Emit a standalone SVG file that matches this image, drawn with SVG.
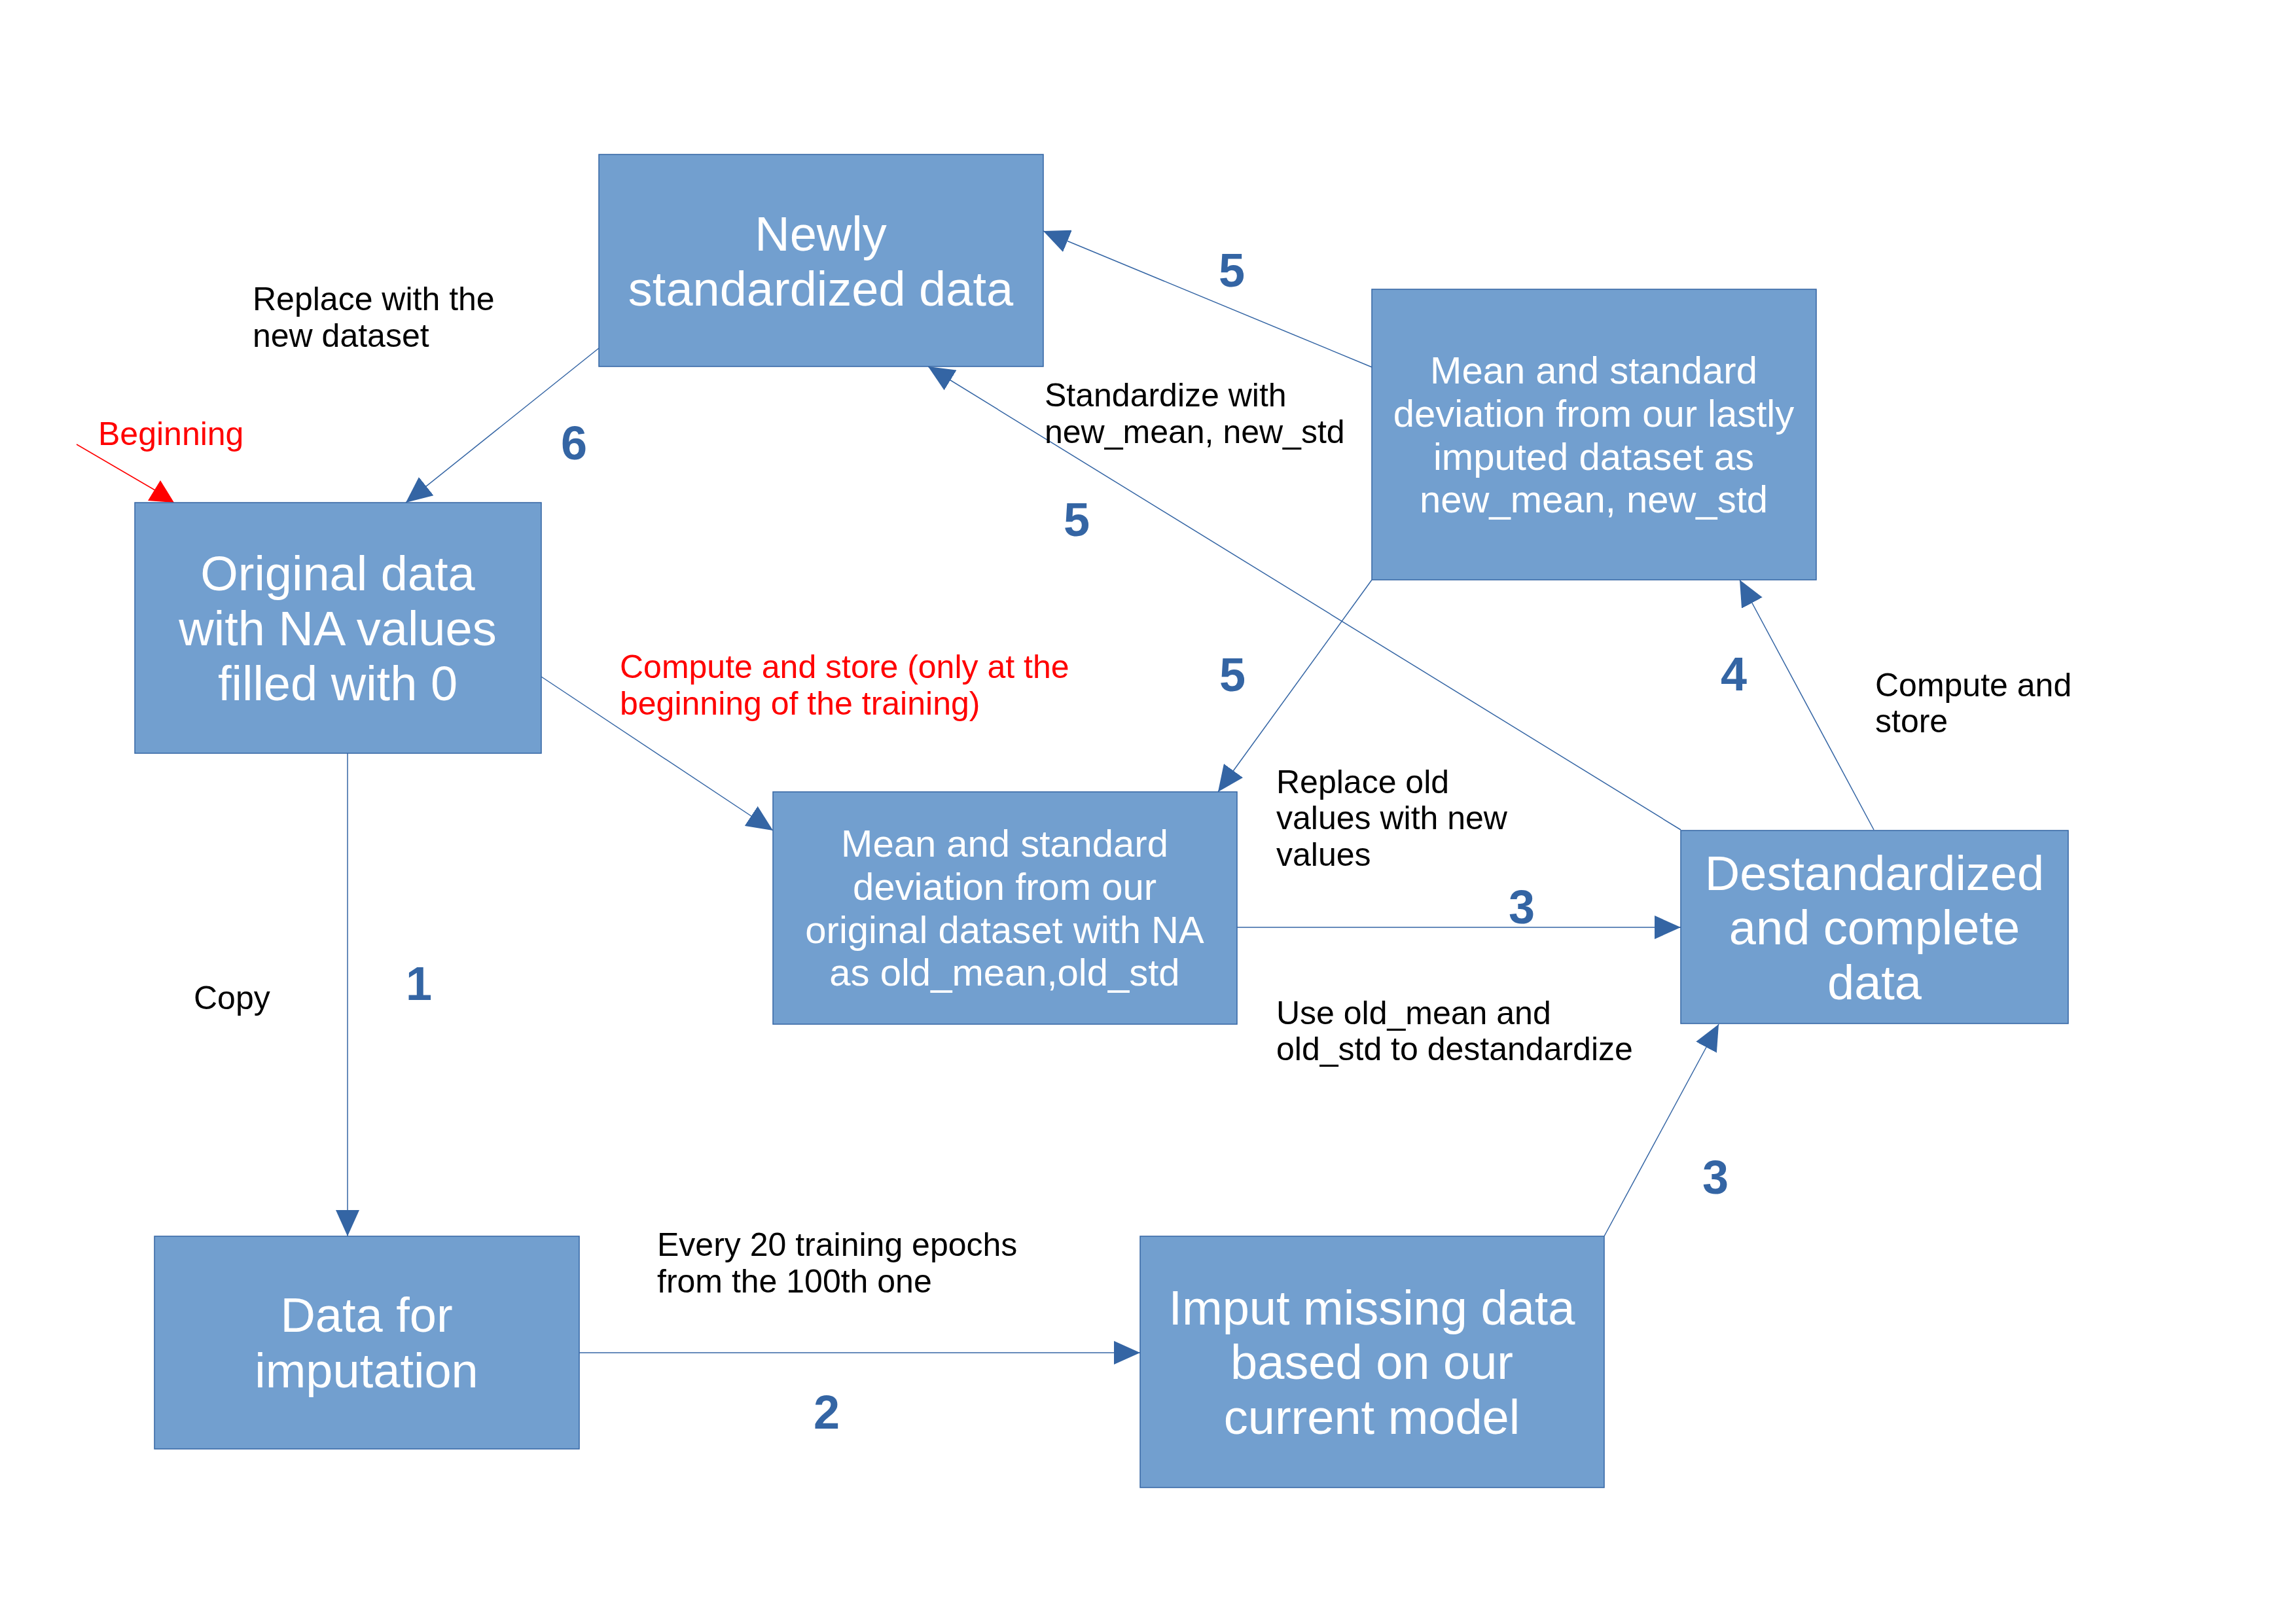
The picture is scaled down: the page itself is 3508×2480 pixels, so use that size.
<svg xmlns="http://www.w3.org/2000/svg" width="3508" height="2480" viewBox="0 0 3508 2480">
<style>
.box{fill:#729fcf;stroke:#3465a4;stroke-width:1.5}
.bt{font-family:"Liberation Sans",Arial,sans-serif;fill:#ffffff;text-anchor:middle}
.big{font-size:74px}
.small{font-size:58px}
.lbl{font-family:"Liberation Sans",Arial,sans-serif;font-size:50px;fill:#000000}
.red{fill:#ff0000}
.num{font-family:"Liberation Sans",Arial,sans-serif;font-size:72px;font-weight:bold;fill:#3465a4}
.con{stroke:#3465a4;stroke-width:1.5;fill:none;marker-end:url(#arr)}
</style>
<defs>
<marker id="arr" markerUnits="userSpaceOnUse" markerWidth="40" markerHeight="36" refX="40" refY="18" orient="auto">
<path d="M0,0 L40,18 L0,36 z" fill="#3465a4"/>
</marker>
</defs>
<rect width="3508" height="2480" fill="#ffffff"/>

<g id="connectors">
<line class="con" x1="531" y1="1151" x2="531" y2="1889"/>
<line class="con" x1="885" y1="2067" x2="1742" y2="2067"/>
<line class="con" x1="1890" y1="1417" x2="2568" y2="1417"/>
<line class="con" x1="2451" y1="1889" x2="2626" y2="1565"/>
<line class="con" x1="2863" y1="1268" x2="2658" y2="886"/>
<line class="con" x1="2096" y1="561" x2="1594" y2="353"/>
<line class="con" x1="2568" y1="1268" x2="1418" y2="560"/>
<line class="con" x1="2096" y1="886" x2="1861" y2="1210"/>
<line class="con" x1="915" y1="532" x2="620" y2="768"/>
<line class="con" x1="827" y1="1034" x2="1181" y2="1269"/>
<line x1="117" y1="679" x2="242" y2="752" stroke="#ff0000" stroke-width="1.5"/>
<polygon points="226,765 245,734 266,768" fill="#ff0000"/>
</g>

<g id="node-newly">
<rect class="box" x="915" y="236" width="679" height="324"/>
<text class="bt big" x="1254" y="383">Newly</text>
<text class="bt big" x="1254" y="467">standardized data</text>
</g>
<g id="node-mean-lastly">
<rect class="box" x="2096" y="442" width="679" height="444"/>
<text class="bt small" x="2435" y="586">Mean and standard</text>
<text class="bt small" x="2435" y="652">deviation from our lastly</text>
<text class="bt small" x="2435" y="718">imputed dataset as</text>
<text class="bt small" x="2435" y="783">new_mean, new_std</text>
</g>
<g id="node-original">
<rect class="box" x="206" y="768" width="621" height="383"/>
<text class="bt big" x="516" y="902">Original data</text>
<text class="bt big" x="516" y="986">with NA values</text>
<text class="bt big" x="516" y="1070">filled with 0</text>
</g>
<g id="node-mean-original">
<rect class="box" x="1181" y="1210" width="709" height="355"/>
<text class="bt small" x="1535" y="1309">Mean and standard</text>
<text class="bt small" x="1535" y="1375">deviation from our</text>
<text class="bt small" x="1535" y="1441">original dataset with NA</text>
<text class="bt small" x="1535" y="1506">as old_mean,old_std</text>
</g>
<g id="node-destandardized">
<rect class="box" x="2568" y="1269" width="592" height="295"/>
<text class="bt big" x="2864" y="1360">Destandardized</text>
<text class="bt big" x="2864" y="1443">and complete</text>
<text class="bt big" x="2864" y="1527">data</text>
</g>
<g id="node-data-imputation">
<rect class="box" x="236" y="1889" width="649" height="325"/>
<text class="bt big" x="560" y="2035">Data for</text>
<text class="bt big" x="560" y="2120">imputation</text>
</g>
<g id="node-imput">
<rect class="box" x="1742" y="1889" width="709" height="384"/>
<text class="bt big" x="2096" y="2024">Imput missing data</text>
<text class="bt big" x="2096" y="2107">based on our</text>
<text class="bt big" x="2096" y="2191">current model</text>
</g>

<g id="labels">
<text class="lbl" x="386" y="474">Replace with the</text>
<text class="lbl" x="386" y="530">new dataset</text>
<text class="lbl red" x="150" y="680">Beginning</text>
<text class="lbl red" x="947" y="1036">Compute and store (only at the</text>
<text class="lbl red" x="947" y="1092">beginning of the training)</text>
<text class="lbl" x="1596" y="621">Standardize with</text>
<text class="lbl" x="1596" y="677">new_mean, new_std</text>
<text class="lbl" x="2865" y="1064">Compute and</text>
<text class="lbl" x="2865" y="1119">store</text>
<text class="lbl" x="1950" y="1212">Replace old</text>
<text class="lbl" x="1950" y="1267">values with new</text>
<text class="lbl" x="1950" y="1323">values</text>
<text class="lbl" x="1950" y="1565">Use old_mean and</text>
<text class="lbl" x="1950" y="1620">old_std to destandardize</text>
<text class="lbl" x="296" y="1542">Copy</text>
<text class="lbl" x="1004" y="1919">Every 20 training epochs</text>
<text class="lbl" x="1004" y="1975">from the 100th one</text>
<text class="num" x="857" y="702">6</text>
<text class="num" x="1862" y="438">5</text>
<text class="num" x="1625" y="819">5</text>
<text class="num" x="1863" y="1056">5</text>
<text class="num" x="2629" y="1055">4</text>
<text class="num" x="2305" y="1411">3</text>
<text class="num" x="2601" y="1824">3</text>
<text class="num" x="620" y="1528">1</text>
<text class="num" x="1243" y="2183">2</text>
</g>
</svg>
